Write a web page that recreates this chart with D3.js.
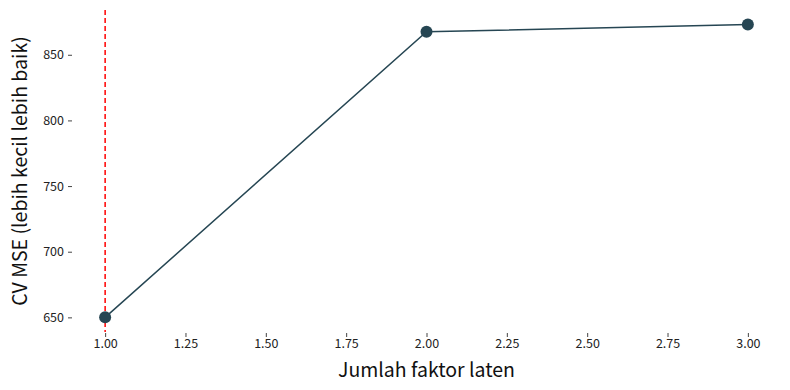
<!DOCTYPE html>
<html>
<head>
<meta charset="utf-8">
<script src="https://cdn.jsdelivr.net/npm/d3@7"></script>
<style>
  body { margin: 0; background: #fff; }
  svg { font-family: "Noto Sans CJK JP", "Noto Sans", sans-serif; }
</style>
</head>
<body>
<div id="chart"></div>
<script>
// --- data ---
const factors = [1, 2, 3];
const cvMse = [650, 867.5, 873];
const xTicks = [1.0, 1.25, 1.5, 1.75, 2.0, 2.25, 2.5, 2.75, 3.0];
const yTicks = [650, 700, 750, 800, 850];
const bestFactor = 1;

const width = 790, height = 390;
const margin = {top: 10, right: 10, bottom: 58, left: 73};
const fontFam = '"Noto Sans CJK JP", "Noto Sans", sans-serif';

const svg = d3.select("#chart").append("svg").attr("width", width).attr("height", height);

const x = d3.scaleLinear().domain([0.9, 3.1]).range([margin.left, width - margin.right]);
const y = d3.scaleLinear().domain([638.85, 884.1]).range([height - margin.bottom, margin.top]);

// axes (no spines)
const xAxis = svg.append("g")
    .attr("transform", `translate(0,${height - margin.bottom})`)
    .call(d3.axisBottom(x).tickValues(xTicks).tickFormat(d3.format(".2f")).tickSize(4).tickPadding(3));
const yAxis = svg.append("g")
    .attr("transform", `translate(${margin.left},0)`)
    .call(d3.axisLeft(y).tickValues(yTicks).tickSize(4).tickPadding(5));

[xAxis, yAxis].forEach(g => {
    g.attr("font-family", fontFam).attr("font-size", 12.5);
    g.select(".domain").remove();
    g.selectAll(".tick line").attr("stroke", "#444").attr("transform", g === xAxis ? "translate(0,1)" : "translate(-1,0)");
    g.selectAll(".tick text").attr("fill", "#222");
});

// best-factor marker
svg.append("line")
    .attr("x1", x(bestFactor)).attr("x2", x(bestFactor))
    .attr("y1", margin.top).attr("y2", height - margin.bottom)
    .attr("stroke", "#ff0000").attr("stroke-width", 1.5).attr("stroke-dasharray", "5,3");

const pts = factors.map((f, i) => [f, cvMse[i]]);

svg.append("path")
    .datum(pts)
    .attr("fill", "none").attr("stroke", "#264653").attr("stroke-width", 1.5)
    .attr("d", d3.line().x(d => x(d[0])).y(d => y(d[1])));

svg.selectAll("circle.pt").data(pts).join("circle")
    .attr("class", "pt")
    .attr("cx", d => x(d[0])).attr("cy", d => y(d[1]))
    .attr("r", 6).attr("fill", "#264653");

// labels
svg.append("text")
    .attr("x", x(2)).attr("y", height - 13)
    .attr("text-anchor", "middle").style("font-size", "19.5px").attr("fill", "#111")
    .text("Jumlah faktor laten");

svg.append("text")
    .attr("transform", `translate(27,${(margin.top + height - margin.bottom) / 2}) rotate(-90)`)
    .attr("text-anchor", "middle").style("font-size", "19.5px").attr("fill", "#111")
    .text("CV MSE (lebih kecil lebih baik)");
</script>
</body>
</html>
